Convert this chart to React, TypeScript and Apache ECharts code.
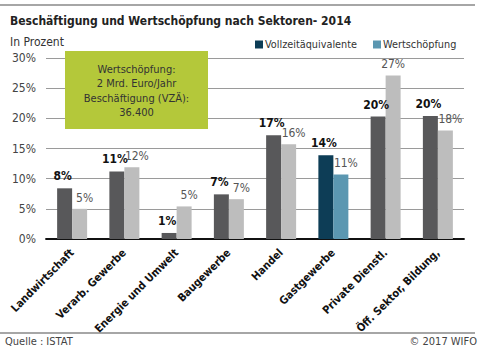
import React, { useEffect, useRef } from "react";
import * as echarts from "echarts";

const categories = [
  "Landwirtschaft",
  "Verarb. Gewerbe",
  "Energie und Umwelt",
  "Baugewerbe",
  "Handel",
  "Gastgewerbe",
  "Private Dienstl.",
  "Öff. Sektor, Bildung,",
];
const vza = [8.4, 11.2, 1.0, 7.4, 17.2, 13.9, 20.3, 20.4];
const wertschoepfung = [5.0, 11.9, 5.4, 6.6, 15.7, 10.7, 27.1, 18.0];
const highlightIndex = 5;
const yTicks = [0, 5, 10, 15, 20, 25, 30];
const boxLines = ["Wertschöpfung:", "2 Mrd. Euro/Jahr", "Beschäftigung (VZÄ):", "36.400"];

const FONT = "'DejaVu Sans Condensed', 'Liberation Sans Narrow', 'Open Sans', sans-serif";
const DARK_GRAY = "#58585a";
const LIGHT_GRAY = "#bdbdbd";
const DARK_TEAL = "#0d3d56";
const LIGHT_TEAL = "#5b97b1";

export default function App() {
  const ref = useRef<HTMLDivElement>(null);
  useEffect(() => {
    if (!ref.current) return;
    const chart = echarts.init(ref.current, null, { renderer: "svg" });
    const mk = (vals: number[], gray: string, lightOffsets: boolean) =>
      vals.map((v, i) => {
        const item: any = { value: v };
        if (i !== highlightIndex) item.itemStyle = { color: gray };
        if (lightOffsets && v === Math.max(...vals)) item.label = { offset: [0, 0] };
        return item;
      });
    chart.setOption({
      animation: false,
      backgroundColor: "#fff",
      textStyle: { fontFamily: FONT },
      title: {
        text: "Beschäftigung und Wertschöpfung nach Sektoren- 2014",
        left: 5,
        top: 10,
        textStyle: { fontFamily: FONT, fontSize: 12, fontWeight: "bold", color: "#222" },
      },
      legend: {
        top: 34,
        left: 250,
        itemWidth: 8,
        itemHeight: 8,
        itemGap: 16,
        icon: "rect",
        textStyle: { fontFamily: FONT, fontSize: 10.8, color: "#333", padding: [0, 0, 0, -3] },
        data: ["Vollzeitäquivalente", "Wertschöpfung"],
      },
      grid: { left: 46, right: 16, top: 58, bottom: 115 },
      xAxis: {
        type: "category",
        data: categories,
        axisLine: { lineStyle: { color: "#111", width: 1.8 } },
        axisTick: { show: false },
        axisLabel: {
          interval: 0,
          rotate: 45,
          fontFamily: FONT,
          fontSize: 11,
          fontWeight: "bold",
          color: "#111",
          margin: 12,
        },
      },
      yAxis: {
        type: "value",
        min: yTicks[0],
        max: yTicks[yTicks.length - 1],
        interval: 5,
        name: "In Prozent",
        nameLocation: "end",
        nameGap: 10,
        nameTextStyle: { fontFamily: FONT, fontSize: 12, color: "#333", align: "left", padding: [0, 0, 0, -36] },
        axisLine: { show: false },
        axisTick: { show: false },
        axisLabel: { formatter: "{value}%", fontFamily: FONT, fontSize: 12, color: "#444", margin: 10 },
        splitLine: { lineStyle: { color: "#9a9a9a", width: 1 } },
      },
      series: [
        {
          name: "Vollzeitäquivalente",
          type: "bar",
          data: mk(vza, DARK_GRAY, false),
          barWidth: 15,
          barGap: "0%",
          itemStyle: { color: DARK_TEAL },
          label: {
            show: true,
            position: "top",
            distance: 6,
            offset: [-2, 0],
            formatter: (p: any) => Math.round(p.value) + "%",
            fontFamily: FONT,
            fontSize: 12,
            fontWeight: "bold",
            color: "#111",
          },
        },
        {
          name: "Wertschöpfung",
          type: "bar",
          data: mk(wertschoepfung, LIGHT_GRAY, true),
          barWidth: 15,
          itemStyle: { color: LIGHT_TEAL },
          label: {
            show: true,
            position: "top",
            distance: 5,
            offset: [5, 0],
            formatter: (p: any) => Math.round(p.value) + "%",
            fontFamily: FONT,
            fontSize: 12,
            color: "#555",
          },
        },
      ],
      graphic: [
        { type: "line", shape: { x1: 0, y1: 5, x2: 475, y2: 5 }, style: { stroke: "#888", lineWidth: 1.5 } },
        { type: "line", shape: { x1: 0, y1: 333, x2: 475, y2: 333 }, style: { stroke: "#888", lineWidth: 1.5 } },
        {
          type: "rect",
          shape: { x: 65, y: 51, width: 143, height: 78 },
          style: { fill: "#b4c83a" },
          z: 10,
        },
        {
          type: "text",
          x: 136.5,
          y: 62,
          z: 11,
          style: {
            text: boxLines.join("\n"),
            fontFamily: FONT,
            fontSize: 11,
            lineHeight: 14.5,
            fill: "#333",
            align: "center",
            verticalAlign: "top",
          },
        },
        {
          type: "text",
          x: 5,
          y: 336,
          style: { text: "Quelle : ISTAT", fontFamily: FONT, fontSize: 11, fill: "#444" },
        },
        {
          type: "text",
          x: 477,
          y: 336,
          style: { text: "© 2017 WIFO", fontFamily: FONT, fontSize: 11, fill: "#444", align: "right" },
        },
      ],
    });
    return () => chart.dispose();
  }, []);
  return <div ref={ref} style={{ width: 480, height: 354, position: "absolute", left: 0, top: 0 }} />;
}
